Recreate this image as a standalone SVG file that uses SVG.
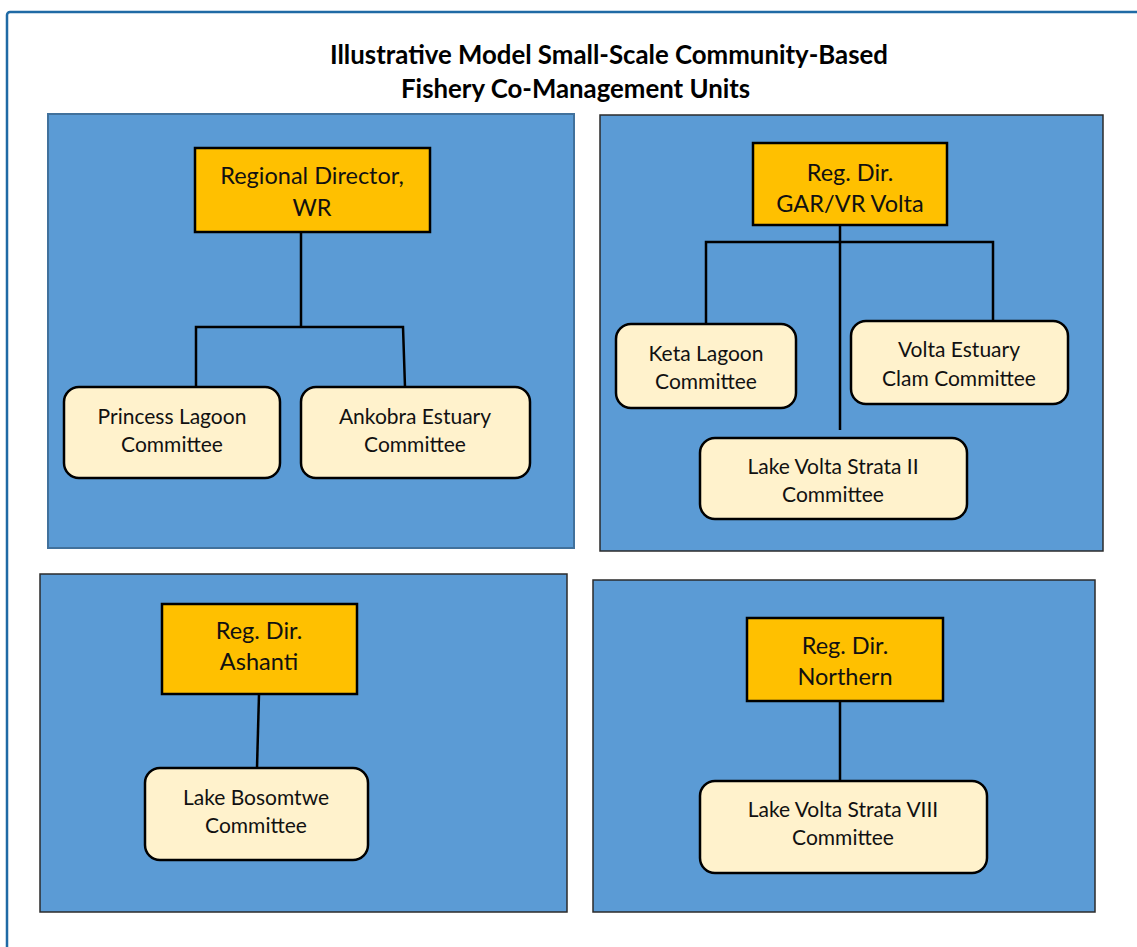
<svg xmlns="http://www.w3.org/2000/svg" width="1137" height="947" viewBox="0 0 1137 947">
<style>
.title{font-family:Lato,"Liberation Sans",sans-serif;font-weight:bold;font-size:25.8px;fill:#000}
.panel{fill:#5b9bd5;stroke:#2b2b2b;stroke-width:1.5}
.head{fill:#ffc000;stroke:#000;stroke-width:2.5}
.unit{fill:#fff2cc;stroke:#000;stroke-width:2.5}
.lbl{font-family:Lato,"Liberation Sans",sans-serif;font-size:23.5px;fill:#111;text-anchor:middle}
.lbl2{font-family:Lato,"Liberation Sans",sans-serif;font-size:21px;fill:#111;text-anchor:middle}
.con{fill:none;stroke:#000;stroke-width:2.5}
</style>
<rect x="0" y="0" width="1137" height="947" fill="#fff"/>
<rect x="7" y="12" width="1145" height="960" rx="3" fill="none" stroke="#1f6aa5" stroke-width="2.5"/>
<g id="title">
<text class="title" x="330" y="64">Illustrative Model Small-Scale Community-Based</text>
<text class="title" x="401" y="98">Fishery Co-Management Units</text>
</g>
<g id="panel-wr"><rect class="panel" x="48" y="114" width="526" height="434" style="stroke:#41719c;stroke-width:2"/></g>
<g id="panel-volta"><rect class="panel" x="600" y="115" width="503" height="436"/></g>
<g id="panel-ashanti"><rect class="panel" x="40" y="574" width="527" height="338"/></g>
<g id="panel-northern"><rect class="panel" x="593" y="580" width="502" height="332"/></g>
<g id="connectors">
<path class="con" d="M301 232 V327 M196 387 V327 H403 L405 387"/>
<path class="con" d="M840 225 V430 M706 324 V242 H993 V321"/>
<path class="con" d="M259 694 L257 768"/>
<path class="con" d="M840 701 V781"/>
</g>
<g id="rd-wr"><rect class="head" x="195" y="148" width="235" height="84"/>
<text class="lbl" x="312" y="184">Regional Director,</text><text class="lbl" x="312" y="216">WR</text></g>
<g id="princess"><rect class="unit" x="64" y="387" width="216" height="91" rx="15"/>
<text class="lbl2" x="172" y="424">Princess Lagoon</text><text class="lbl2" x="172" y="452">Committee</text></g>
<g id="ankobra"><rect class="unit" x="301" y="387" width="229" height="91" rx="15"/>
<text class="lbl2" x="415" y="424">Ankobra Estuary</text><text class="lbl2" x="415" y="452">Committee</text></g>
<g id="rd-volta"><rect class="head" x="753" y="143" width="194" height="82"/>
<text class="lbl" x="850" y="181">Reg. Dir.</text><text class="lbl" x="850" y="212">GAR/VR Volta</text></g>
<g id="keta"><rect class="unit" x="616" y="324" width="180" height="84" rx="15"/>
<text class="lbl2" x="706" y="361">Keta Lagoon</text><text class="lbl2" x="706" y="389">Committee</text></g>
<g id="volta-estuary"><rect class="unit" x="851" y="321" width="217" height="83" rx="15"/>
<text class="lbl2" x="959" y="357">Volta Estuary</text><text class="lbl2" x="959" y="386">Clam Committee</text></g>
<g id="strata-ii"><rect class="unit" x="700" y="438" width="267" height="81" rx="15"/>
<text class="lbl2" x="833" y="474">Lake Volta Strata II</text><text class="lbl2" x="833" y="502">Committee</text></g>
<g id="rd-ashanti"><rect class="head" x="162" y="604" width="195" height="90"/>
<text class="lbl" x="259" y="639">Reg. Dir.</text><text class="lbl" x="259" y="670">Ashanti</text></g>
<g id="bosomtwe"><rect class="unit" x="145" y="768" width="223" height="92" rx="15"/>
<text class="lbl2" x="256" y="805">Lake Bosomtwe</text><text class="lbl2" x="256" y="833">Committee</text></g>
<g id="rd-northern"><rect class="head" x="747" y="618" width="196" height="83"/>
<text class="lbl" x="845" y="654">Reg. Dir.</text><text class="lbl" x="845" y="685">Northern</text></g>
<g id="strata-viii"><rect class="unit" x="700" y="781" width="287" height="92" rx="15"/>
<text class="lbl2" x="843" y="817">Lake Volta Strata VIII</text><text class="lbl2" x="843" y="845">Committee</text></g>
</svg>
